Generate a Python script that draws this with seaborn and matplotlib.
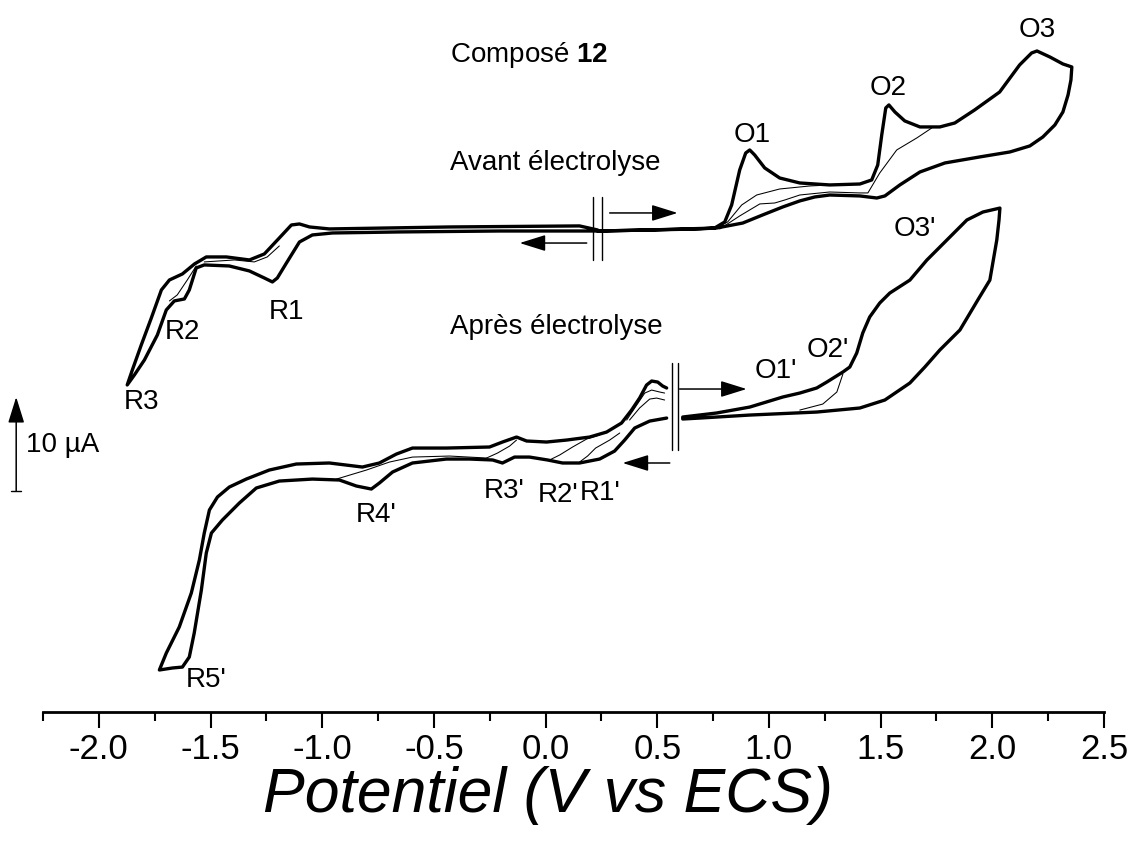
import numpy as np
import pandas as pd
import matplotlib
matplotlib.use('Agg')
import matplotlib.pyplot as plt
from matplotlib.ticker import MultipleLocator, FormatStrFormatter
import seaborn as sns

# Voltammogramme "Avant électrolyse" (cycle 1, trait épais) : potentiel (V) et courant (µA)
avant_v = [0.233, 0.466, 0.690, 0.757, 0.802, 0.833, 0.869, 0.896, 0.914, 0.936, 0.981, 1.048,
           1.138, 1.272, 1.407, 1.460, 1.487, 1.505, 1.523, 1.537, 1.564, 1.608, 1.676, 1.765,
           1.832, 1.921, 2.033, 2.122, 2.176, 2.200, 2.258, 2.316, 2.356,
           2.352, 2.339, 2.316, 2.280, 2.226, 2.168, 2.079, 1.944, 1.788, 1.676, 1.586, 1.519,
           1.483, 1.407, 1.272, 1.205, 1.138, 1.062, 0.972, 0.883, 0.766, 0.466, 0.242, -0.206,
           -0.654, -0.954, -1.044, -1.102, -1.160, -1.201, -1.223, -1.259, -1.326, -1.416,
           -1.528, -1.564, -1.595, -1.617, -1.662, -1.698, -1.738, -1.796, -1.841, -1.873,
           -1.850, -1.810, -1.765, -1.720, -1.684, -1.626, -1.572, -1.519, -1.429, -1.326, -1.259,
           -1.192, -1.138, -1.102, -1.057, -0.968, -0.430, 0.152, 0.233]
avant_i = [-0.11, 0.00, 0.11, 0.21, 0.85, 2.66, 6.38, 8.19, 8.51, 7.98, 6.60, 5.53,
           5.00, 4.79, 4.89, 5.32, 6.91, 10.11, 12.98, 13.30, 12.55, 11.60, 10.96, 10.96,
           11.38, 12.77, 14.68, 17.55, 18.83, 19.04, 18.40, 17.66, 17.34,
           15.96, 14.36, 12.55, 11.17, 9.89, 8.94, 8.30, 7.77, 7.13, 6.17, 4.79, 3.62,
           3.40, 3.62, 3.72, 3.51, 3.09, 2.45, 1.60, 0.74, 0.21, 0.00, -0.11, -0.11,
           -0.21, -0.32, -0.53, -1.28, -3.51, -5.11, -5.53, -5.11, -4.36, -3.83,
           -3.72, -4.04, -6.38, -7.34, -7.55, -8.51, -11.17, -13.83, -15.43, -16.49,
           -14.89, -12.23, -9.36, -6.38, -5.32, -4.68, -3.62, -2.87, -2.87, -3.19, -2.55,
           -0.85, 0.53, 0.64, 0.32, 0.11, 0.32, 0.43, 0.00]

# cycles suivants (trait fin)
avant_c2_v = [0.757, 0.815, 0.878, 0.945, 1.048, 1.183, 1.272]
avant_c2_i = [0.11, 0.85, 2.66, 3.72, 4.36, 4.68, 4.79]
avant_c3_v = [0.780, 0.869, 0.959, 1.026, 1.071, 1.138, 1.272, 1.407, 1.443, 1.496, 1.572, 1.662, 1.729]
avant_c3_i = [0.11, 1.49, 2.77, 2.87, 3.19, 3.72, 4.04, 3.94, 3.94, 6.06, 8.51, 9.79, 10.85]
avant_r2_v = [-1.564, -1.604, -1.649, -1.684]
avant_r2_i = [-3.83, -5.32, -6.91, -7.55]
avant_r1_v = [-1.528, -1.393, -1.304, -1.246, -1.192]
avant_r1_i = [-3.40, -3.19, -3.40, -2.87, -1.70]

# Voltammogramme "Après électrolyse" : partie anodique (droite) et cathodique (gauche)
apres_droite_v = [0.614, 0.766, 0.914, 1.062, 1.138, 1.214, 1.259, 1.331, 1.362, 1.393, 1.420,
                  1.451, 1.496, 1.541, 1.631, 1.707, 1.752, 1.810, 1.886, 1.958, 2.034,
                  2.030, 2.020, 1.989, 1.935, 1.855, 1.765, 1.698, 1.631, 1.519, 1.407, 1.214,
                  0.914, 0.690, 0.614]
apres_droite_i = [0.00, 0.43, 1.06, 2.13, 2.55, 3.09, 3.72, 4.79, 5.32, 6.81, 8.94,
                  10.64, 12.13, 13.19, 14.57, 16.70, 17.77, 19.15, 20.96, 21.81, 22.23,
                  20.96, 18.83, 14.57, 12.45, 9.26, 7.13, 5.32, 3.62, 1.81, 0.96, 0.53,
                  0.21, -0.11, -0.21]
apres_gauche_v = [0.542, 0.466, 0.399, 0.354, 0.309, 0.242, 0.152, 0.076, 0.009, -0.072, -0.139,
                  -0.193, -0.237, -0.340, -0.444, -0.596, -0.685, -0.744, -0.780, -0.847, -0.923,
                  -1.044, -1.192, -1.295, -1.371, -1.447, -1.496, -1.519, -1.541, -1.573, -1.595,
                  -1.626, -1.671, -1.729,
                  -1.698, -1.640, -1.586, -1.550, -1.528, -1.505, -1.469, -1.416, -1.340, -1.237,
                  -1.116, -0.968, -0.820, -0.744, -0.668, -0.596, -0.444, -0.251, -0.193, -0.130,
                  -0.085, 0.004, 0.094, 0.197, 0.273, 0.340, 0.385, 0.421, 0.452, 0.475, 0.502,
                  0.524, 0.542]
apres_gauche_i = [-0.11, -0.43, -1.17, -2.45, -3.62, -4.47, -4.89, -4.89, -4.57, -4.26, -4.26,
                  -4.89, -4.57, -4.47, -4.47, -4.89, -5.85, -7.02, -7.66, -7.34, -6.70,
                  -6.60, -6.81, -7.55, -9.15, -10.96, -12.34, -14.47, -18.40, -22.98, -25.53,
                  -26.60, -26.70, -26.91,
                  -25.11, -22.34, -18.72, -15.21, -12.34, -9.89, -8.51, -7.45, -6.60, -5.64,
                  -5.00, -4.89, -5.32, -4.89, -3.94, -3.30, -3.30, -3.19, -2.66, -2.13,
                  -2.55, -2.66, -2.45, -2.13, -1.60, -0.64, 0.74, 2.02, 3.40, 3.83, 3.72,
                  3.30, 3.09]

# cycles suivants (trait fin)
apres_fins = [
    ([0.363, 0.408, 0.444, 0.475, 0.511, 0.533], [-0.32, 1.28, 2.55, 2.87, 2.66, 2.55]),
    ([0.376, 0.421, 0.466, 0.497, 0.533], [-0.32, 0.96, 1.91, 2.02, 1.81]),
    ([0.018, 0.063, 0.121, 0.184, 0.242], [-4.57, -4.04, -3.19, -2.34, -1.91]),
    ([0.152, 0.188, 0.224, 0.287, 0.332], [-4.79, -4.15, -3.30, -2.45, -1.70]),
    ([-0.264, -0.215, -0.161, -0.130], [-4.36, -3.83, -3.09, -2.45]),
    ([-0.936, -0.802, -0.699, -0.596, -0.430, -0.264], [-6.60, -5.64, -4.79, -4.26, -4.15, -4.36]),
    ([1.138, 1.241, 1.304, 1.331], [0.74, 1.38, 2.66, 4.57]),
]

# décalages verticaux des deux tracés (µA)
off_avant = 51.28
off_apres = 31.38

sns.set_theme(style='white')
plt.rcParams['font.family'] = ['Liberation Sans', 'DejaVu Sans']
plt.rcParams['mathtext.fontset'] = 'custom'
plt.rcParams['mathtext.rm'] = 'Liberation Sans'
plt.rcParams['mathtext.bf'] = 'Liberation Sans:bold'
plt.rcParams['axes.unicode_minus'] = False
plt.rcParams['text.color'] = 'black'
plt.rcParams['axes.labelcolor'] = 'black'

fig = plt.figure(figsize=(11.33, 8.42), dpi=100)
ax = fig.add_axes([43 / 1133, 130 / 842, 1061 / 1133, 712 / 842])

epais = 2.4
fin = 0.75


def trace(v, i, off, lw):
    d = pd.DataFrame({'V': v, 'I': np.array(i) + off})
    sns.lineplot(data=d, x='V', y='I', sort=False, estimator=None, color='black',
                 lw=lw, ax=ax, solid_joinstyle='round')


trace(avant_v, avant_i, off_avant, epais)
for v, i in [(avant_c2_v, avant_c2_i), (avant_c3_v, avant_c3_i),
             (avant_r2_v, avant_r2_i), (avant_r1_v, avant_r1_i)]:
    trace(v, i, off_avant, fin)

trace(apres_droite_v, apres_droite_i, off_apres, epais)
trace(apres_gauche_v, apres_gauche_i, off_apres, epais)
for v, i in apres_fins:
    trace(v, i, off_apres, fin)

ax.set_xlim(-2.25, 2.5)
ax.set_ylim(0, 712 / 9.4)

# axe x seul
for s in ['left', 'top', 'right']:
    ax.spines[s].set_visible(False)
ax.spines['bottom'].set_linewidth(2)
ax.spines['bottom'].set_color('black')
ax.set_yticks([])
ax.set_ylabel('')
ax.xaxis.set_major_locator(MultipleLocator(0.5))
ax.xaxis.set_minor_locator(MultipleLocator(0.25))
ax.xaxis.set_major_formatter(FormatStrFormatter('%.1f'))
ax.tick_params(axis='x', which='major', bottom=True, direction='out', length=11.5, width=1.5,
               labelsize=25, pad=3.5, color='black', labelcolor='black')
ax.tick_params(axis='x', which='minor', bottom=True, direction='out', length=6.3, width=1.5,
               color='black')
ax.set_xlabel('Potentiel (V vs ECS)', fontsize=45, style='italic', color='black')
ax.xaxis.set_label_coords((548 - 43) / 1061, -0.117)
ax.xaxis.label.set_va('center')

# textes
fs = 20
ax.text(-0.430, 69.89, r'Composé $\mathbf{12}$', fontsize=fs, ha='left', va='center')
ax.text(-0.430, 58.40, 'Avant électrolyse', fontsize=fs, ha='left', va='center')
ax.text(-0.430, 40.96, 'Après électrolyse', fontsize=fs, ha='left', va='center')
etiquettes = [('O1', 0.923, 61.38), ('O2', 1.532, 66.38), ('O3', 2.200, 72.55),
              ('R1', -1.160, 42.55), ('R2', -1.626, 40.43), ('R3', -1.810, 32.98),
              ("O3'", 1.653, 51.38), ("O2'", 1.263, 38.51), ("O1'", 1.030, 36.28),
              ("R4'", -0.757, 20.96), ("R5'", -1.519, 3.40), ("R3'", -0.184, 23.51),
              ("R2'", 0.054, 23.09), ("R1'", 0.242, 23.30)]
for t, x, y in etiquettes:
    ax.text(x, y, t, fontsize=fs, ha='center', va='center')

# flèches de sens de balayage
fl = dict(arrowstyle='-|>,head_length=0.8,head_width=0.25', mutation_scale=20,
          lw=1.1, color='black', shrinkA=0, shrinkB=0)
for (x0, x1, y) in [(0.287, 0.591, 53.09), (0.184, -0.116, 49.89),
                    (0.600, 0.900, 34.36), (0.556, 0.345, 26.49)]:
    ax.annotate('', xy=(x1, y), xytext=(x0, y), arrowprops=fl, annotation_clip=False)

# doubles barres du potentiel de départ
for x in [0.211, 0.251]:
    ax.plot([x, x], [48.09, 54.79], color='black', lw=1.0)
for x in [0.565, 0.591]:
    ax.plot([x, x], [27.87, 37.13], color='black', lw=1.0)

# barre d'échelle 10 µA
ax.annotate('', xy=(-2.370, 33.51), xytext=(-2.370, 23.51), arrowprops=fl,
            annotation_clip=False)
ax.plot([-2.392, -2.348], [23.51, 23.51], color='black', lw=1.0, clip_on=False)
ax.text(-2.325, 28.40, '10 µA', fontsize=fs, ha='left', va='center')

fig.savefig('out.png', dpi=100)
